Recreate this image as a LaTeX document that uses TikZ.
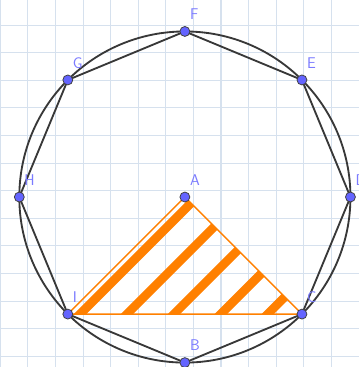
\documentclass[tikz,border=0pt]{standalone}
\usepackage{tikz}
\definecolor{gridblue}{RGB}{214,225,238}
\definecolor{ptblue}{RGB}{100,100,255}
\definecolor{hatchorange}{RGB}{255,128,0}

\begin{document}
\begin{tikzpicture}[
  edge/.style={line width=1.9pt, draw=black!78},
  pt/.style={circle, fill=ptblue, draw=black!75, line width=0.8pt, minimum size=0.36cm, inner sep=0pt},
  lbl/.style={text=ptblue!85, font=\sffamily\fontsize{16}{18}\selectfont, anchor=south west, inner sep=0pt, xshift=0.18cm, yshift=0.42cm},
  hatch/.style={line width=9pt, hatchorange}]
  \useasboundingbox (-6.7,-6.16) rectangle (6.3,7.14);
  \fill[white] (-6.7,-6.16) rectangle (6.3,7.14);
  \foreach \x in {-7,...,5} \draw[gridblue, line width=1.1pt] (\x+0.31,-6.2) -- (\x+0.31,7.2);
  \foreach \y in {-7,...,6} \draw[gridblue, line width=1.1pt] (-6.8,\y+0.23) -- (6.4,\y+0.23);
  \coordinate (A) at (0,0);
  \foreach \n/\a in {D/0,E/45,F/90,G/135,H/180,I/225,B/270,C/315} \coordinate (\n) at (\a:6);
  % hatched triangle AIC
  \begin{scope}
    \clip (A) -- (I) -- (C) -- cycle;
    \foreach \s in {-3.8,-2.1,-0.4,1.3,3.0} \draw[hatch] (\s-0.5,-4.743) -- ++(6,6);
  \end{scope}
  \draw[hatchorange, line width=1.5pt] (A) -- (I) -- (C) -- cycle;
  \draw[edge] (A) circle (6);
  \draw[edge] (F) -- (E) -- (D) -- (C) -- (B) -- (I) -- (H) -- (G) -- cycle;
  \foreach \n in {A,B,C,D,E,F,G,H,I} {
    \node[pt] (p\n) at (\n) {};
    \node[lbl] (l\n) at (\n) {\n};
  }
\end{tikzpicture}
\end{document}
